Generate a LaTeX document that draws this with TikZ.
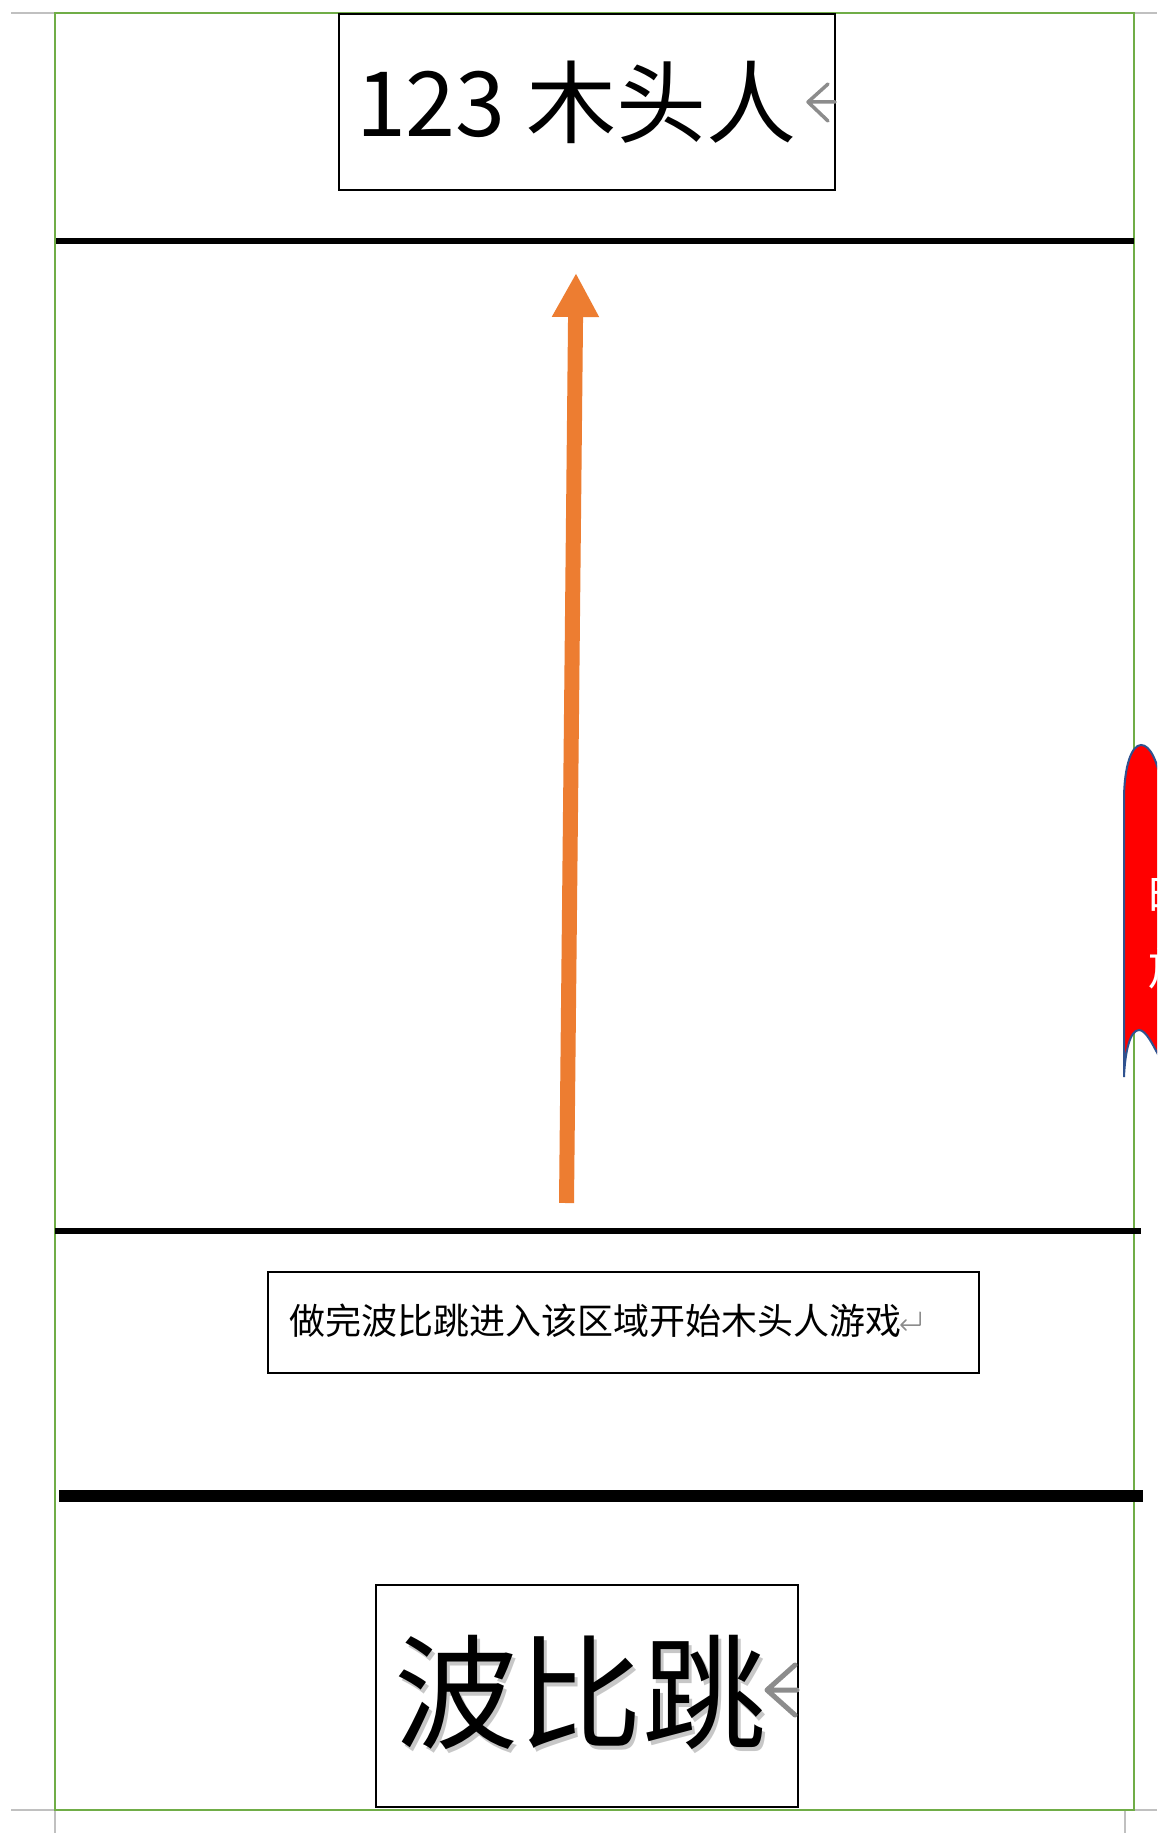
\documentclass[tikz,border=0pt]{standalone}
\usepackage{fontspec}
\newfontfamily\cjk{Noto Sans CJK SC}
\usetikzlibrary{arrows.meta}
\definecolor{framegreen}{HTML}{70AD47}
\definecolor{markgray}{HTML}{C0C0C0}
\definecolor{retgray}{HTML}{8C8C8C}
\definecolor{arroworange}{HTML}{ED7D31}
\definecolor{shapered}{HTML}{FF0000}
\definecolor{shapeblue}{HTML}{2F528F}
\tikzset{
  labelbox/.style={draw=black, line width=1.6pt, fill=white, rectangle, inner sep=0pt},
  zoneline/.style={draw=black, line cap=butt},
  retmark/.style={draw=retgray, line cap=round, line join=round},
  txt/.style={inner sep=0pt, outer sep=0pt},
}
\begin{document}
\begin{tikzpicture}[x=1pt,y=-1pt]
\path[clip] (0,0) rectangle (1157,1833);
\fill[white] (0,0) rectangle (1157,1833);
% page corner marks
\draw[markgray, line width=1.2pt] (11,13) -- (55,13) (1134,13) -- (1157,13)
  (11,1810) -- (1157,1810) (55,1810) -- (55,1833) (1125,1810) -- (1125,1833);
% page frame
\draw[framegreen, line width=2pt] (55,13) rectangle (1134,1810);
% zone lines
\coordinate (l1a) at (56,241);  \coordinate (l1b) at (1134,241);
\coordinate (l2a) at (55,1231); \coordinate (l2b) at (1141,1231);
\coordinate (l3a) at (59,1496); \coordinate (l3b) at (1143,1496);
\draw[zoneline, line width=6.5pt] (l1a) -- (l1b);
\draw[zoneline, line width=5.5pt] (l2a) -- (l2b);
\draw[zoneline, line width=12pt] (l3a) -- (l3b);
% orange arrow
\coordinate (atail) at (566.5,1203);
\coordinate (atip) at (576,273);
\draw[arroworange, line width=15pt, -{Triangle[width=44pt,length=44pt]}] (atail) -- (atip);
% boxes
\node[labelbox, minimum width=496pt, minimum height=176pt] (topbox) at (587,102) {};
\node[labelbox, minimum width=711pt, minimum height=101pt] (midbox) at (623.5,1322.5) {};
\node[labelbox, minimum width=422pt, minimum height=222pt] (botbox) at (587,1696) {};
% texts
\node[txt, anchor=base west, font=\cjk\fontsize{90}{90}\selectfont] (toptext) at (356,137) {123 木头人};
\node[txt, anchor=base west, font=\cjk\fontsize{36}{36}\selectfont] (midtext) at (289,1334) {做完波比跳进入该区域开始木头人游戏};
\node[txt, anchor=base west, font=\cjk\fontsize{124}{124}\selectfont, text=black, opacity=0.22] (botshadow) at (397,1743) {波比跳};
\node[txt, anchor=base west, font=\cjk\fontsize{124}{124}\selectfont] (bottext) at (394,1739) {波比跳};
% paragraph marks
\draw[retmark, line width=3.5pt] (828,84) -- (808,102) -- (828,121) (808,102) -- (835,102);
\draw[retmark, line width=5pt] (795,1665) -- (767,1690) -- (795,1715) (767,1690) -- (797,1690);
\draw[retmark, line width=1.5pt] (920,1312) -- (920,1325) -- (901,1325) (906,1320) -- (901,1325) -- (906,1330);
% red banner at right edge
\draw[fill=shapered, draw=shapeblue, line width=2pt]
  (1124,1077) -- (1124,800) .. controls (1124,765) and (1132,745) .. (1141,745)
  .. controls (1150,745) and (1157,760) .. (1162,785) -- (1162,1062)
  .. controls (1153,1045) and (1146,1030) .. (1139,1030)
  .. controls (1130,1030) and (1125,1052) .. (1124,1077) -- cycle;
\node[txt, anchor=west, text=white, font=\cjk\fontsize{45}{45}\selectfont] (redtext1) at (1148,895) {时};
\node[txt, anchor=west, text=white, font=\cjk\fontsize{45}{45}\selectfont] (redtext2) at (1148,968) {放};
\end{tikzpicture}
\end{document}
